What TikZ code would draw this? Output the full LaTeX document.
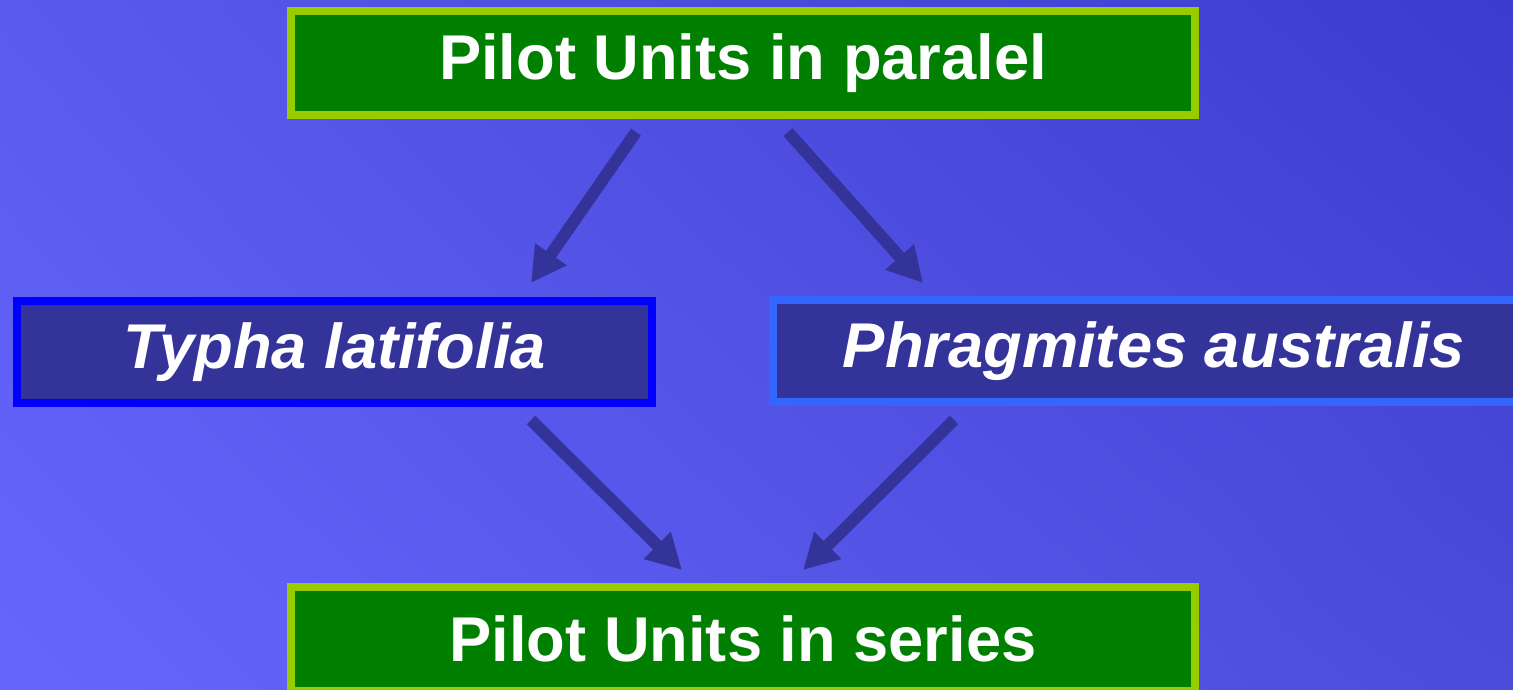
\documentclass[tikz,border=0pt]{standalone}
\usepackage{fontspec}
\setmainfont{Liberation Sans}
\usetikzlibrary{positioning, arrows.meta, shadings}

\definecolor{bgUL}{HTML}{5A5AEC}
\definecolor{bgUR}{HTML}{3B3BCF}
\definecolor{bgLL}{HTML}{6666FF}
\definecolor{bgLR}{HTML}{4C4CDA}
\definecolor{unitgreen}{HTML}{007F00}
\definecolor{limeline}{HTML}{99CC00}
\definecolor{plantfill}{HTML}{333399}
\definecolor{typhaline}{HTML}{0000FF}
\definecolor{phragline}{HTML}{3366FF}

\begin{document}
\begin{tikzpicture}[
        x=0.02cm, y=-0.02cm,
        every node/.style={text=white, font=\fontsize{36}{43}\selectfont\bfseries},
        unit/.style={draw=limeline, fill=unitgreen, line width=0.16cm, minimum width=18.08cm, minimum height=2.08cm, inner sep=0pt},
        plant/.style={fill=plantfill, line width=0.16cm, minimum height=2.06cm, inner sep=0pt, font=\fontsize{36}{43}\selectfont\bfseries\itshape},
        arrow/.style={-{Triangle[length=0.7cm, width=0.72cm]}, line width=0.24cm, draw=plantfill}
    ]

    \useasboundingbox (0,0) rectangle (1513,689);
    \clip (0,0) rectangle (1513,689);
    \shade[upper left=bgUL, upper right=bgUR, lower left=bgLL, lower right=bgLR] (0,0) rectangle (1513,689);

    \node[unit] (Parallel) at (743,63) {Pilot Units in paralel};
    \node[plant, draw=typhaline, minimum width=12.7cm] (Typha) at (334.5,352) {Typha latifolia};
    \node[plant, draw=phragline, minimum width=15.24cm] (Phrag) at (1154,351) {Phragmites australis};
    \node[unit] (Series) at (743,639) {Pilot Units in series};

    \coordinate (ParA) at (636,132);
    \coordinate (ParB) at (788,132);
    \coordinate (TyIn) at (531,283);
    \coordinate (PhIn) at (923,283);
    \coordinate (TyOut) at (531,420);
    \coordinate (PhOut) at (954,420);
    \coordinate (SerA) at (682,570);
    \coordinate (SerB) at (803,570);

    \draw[arrow] (ParA) -- (TyIn);
    \draw[arrow] (ParB) -- (PhIn);
    \draw[arrow] (TyOut) -- (SerA);
    \draw[arrow] (PhOut) -- (SerB);

\end{tikzpicture}
\end{document}
